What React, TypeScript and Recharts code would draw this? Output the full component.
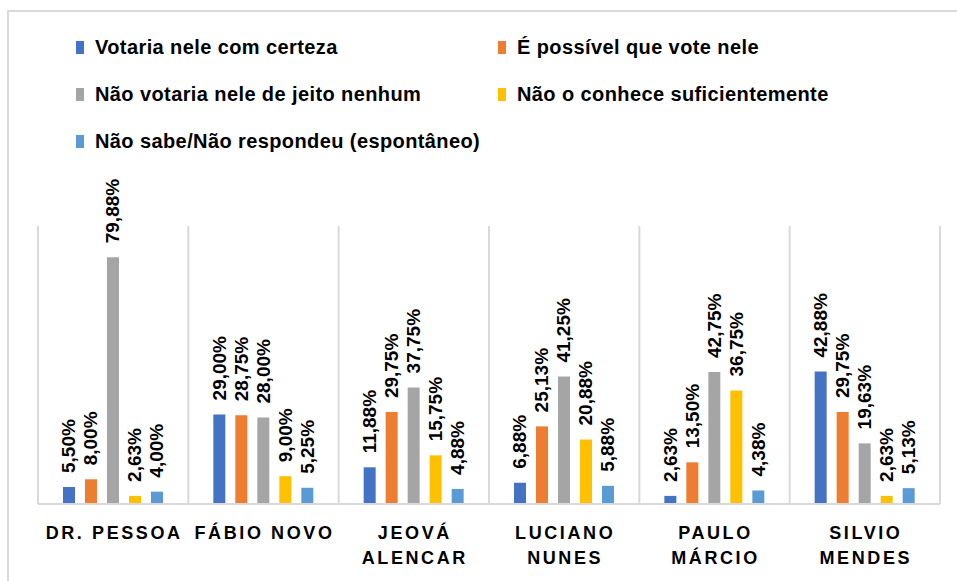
import React from 'react';
import { BarChart, Bar, XAxis, YAxis, CartesianGrid, LabelList } from 'recharts';

// candidates (x axis) and how their names break into lines
const categories = ['DR. PESSOA', 'FÁBIO NOVO', 'JEOVÁ ALENCAR', 'LUCIANO NUNES', 'PAULO MÁRCIO', 'SILVIO MENDES'];
const categoryLines = [
  ['DR. PESSOA'],
  ['FÁBIO NOVO'],
  ['JEOVÁ', 'ALENCAR'],
  ['LUCIANO', 'NUNES'],
  ['PAULO', 'MÁRCIO'],
  ['SILVIO', 'MENDES'],
];

// series values (%)
const votariaCerteza = [5.5, 29.0, 11.88, 6.88, 2.63, 42.88];
const possivelVote = [8.0, 28.75, 29.75, 25.13, 13.5, 29.75];
const naoVotaria = [79.88, 28.0, 37.75, 41.25, 42.75, 19.63];
const naoConhece = [2.63, 9.0, 15.75, 20.88, 36.75, 2.63];
const naoSabe = [4.0, 5.25, 4.88, 5.88, 4.38, 5.13];

const series = [
  { key: 'certeza', name: 'Votaria nele com certeza', color: '#4472C4', values: votariaCerteza },
  { key: 'possivel', name: 'É possível que vote nele', color: '#ED7D31', values: possivelVote },
  { key: 'nenhum', name: 'Não votaria nele de jeito nenhum', color: '#A5A5A5', values: naoVotaria },
  { key: 'conhece', name: 'Não o conhece suficientemente', color: '#FFC000', values: naoConhece },
  { key: 'naosabe', name: 'Não sabe/Não respondeu (espontâneo)', color: '#5B9BD5', values: naoSabe },
];

const chartData = categories.map((name, i) => {
  const row: any = { name };
  series.forEach(s => {
    row[s.key] = s.values[i];
  });
  return row;
});

const FONT = '"Liberation Sans", Arial, sans-serif';

const fmt = (v: number) => v.toFixed(2).replace('.', ',') + '%';

// rotated value label above each bar
const RotatedLabel = (props: any) => {
  const { x, y, width, value } = props;
  const cx = x + width / 2;
  const ty = y - 14;
  return (
    <text
      x={cx}
      y={ty}
      transform={`rotate(-90, ${cx}, ${ty})`}
      textAnchor="start"
      dominantBaseline="central"
      fontFamily={FONT}
      fontWeight={700}
      fontSize={19}
      fill="#000"
    >
      {fmt(value)}
    </text>
  );
};

const CategoryTick = (props: any) => {
  const { x, y, payload } = props;
  const lines = categoryLines[payload.index] || [payload.value];
  return (
    <g>
      {lines.map((line: string, i: number) => (
        <text
          key={i}
          x={x + 1}
          y={y + 21 + i * 25}
          textAnchor="middle"
          dominantBaseline="central"
          fontFamily={FONT}
          fontWeight={700}
          fontSize={18}
          fill="#000"
          style={{ letterSpacing: '2.6px' }}
        >
          {line}
        </text>
      ))}
    </g>
  );
};

const legendRows = [
  [series[0], series[1]],
  [series[2], series[3]],
  [series[4]],
];

export default function App() {
  return (
    <div style={{ position: 'absolute', left: 0, top: 0, width: 957, height: 581, background: '#fff', overflow: 'hidden' }}>
      <div
        style={{
          position: 'absolute',
          left: 7,
          top: 10,
          width: 960,
          height: 600,
          borderLeft: '2px solid #d9d9d9',
          borderTop: '2px solid #d9d9d9',
        }}
      />
      {/* legend */}
      <div
        style={{
          position: 'absolute',
          left: 76,
          top: 24,
          fontFamily: FONT,
          fontWeight: 700,
          fontSize: 20,
          letterSpacing: '0.4px',
          color: '#000',
        }}
      >
        {legendRows.map((row, r) => (
          <div key={r} style={{ display: 'flex', height: 47, alignItems: 'center' }}>
            {row.map(s => (
              <div key={s.key} style={{ width: 422, display: 'flex', alignItems: 'center' }}>
                <span style={{ display: 'inline-block', width: 8, height: 13, background: s.color, marginRight: 11 }} />
                <span>{s.name}</span>
              </div>
            ))}
          </div>
        ))}
      </div>
      <div style={{ position: 'absolute', left: 0, top: 0 }}>
        <BarChart
          width={957}
          height={581}
          data={chartData}
          margin={{ top: 226, right: 17, bottom: 0, left: 38 }}
          barSize={12}
          barGap={10}
        >
          <CartesianGrid
            horizontal={false}
            stroke="#d9d9d9"
            strokeWidth={2}
            verticalCoordinatesGenerator={({ offset }: any) =>
              categories.map((_, i) => offset.left + (i * offset.width) / categories.length).concat(offset.left + offset.width)
            }
          />
          <XAxis
            dataKey="name"
            interval={0}
            tickLine={false}
            axisLine={{ stroke: '#d9d9d9', strokeWidth: 2 }}
            tick={<CategoryTick />}
            height={77}
          />
          <YAxis hide domain={[0, 90]} />
          {series.map(s => (
            <Bar key={s.key} dataKey={s.key} name={s.name} fill={s.color} isAnimationActive={false}>
              <LabelList dataKey={s.key} content={<RotatedLabel />} />
            </Bar>
          ))}
        </BarChart>
      </div>
    </div>
  );
}
